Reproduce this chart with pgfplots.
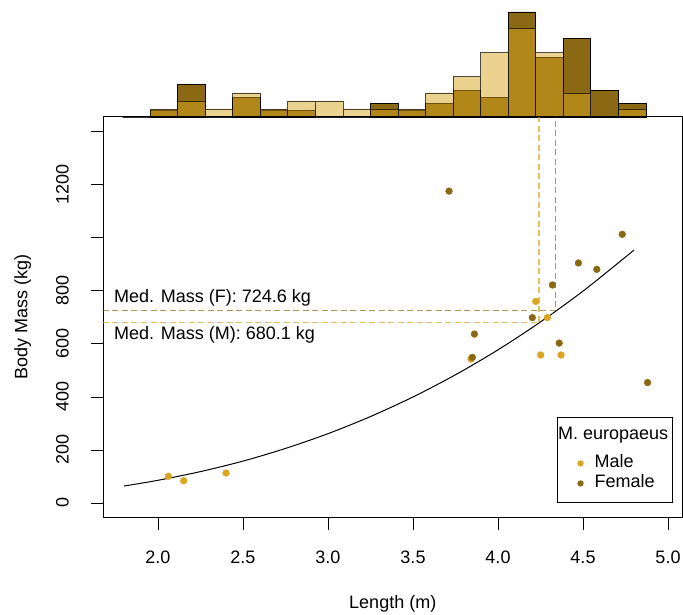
\documentclass[border=0pt]{standalone}
\usepackage{fontspec}
\setmainfont{Liberation Sans}
\usepackage{pgfplots}
\pgfplotsset{compat=1.18}
\definecolor{male}{RGB}{218,165,32}
\definecolor{female}{RGB}{139,105,20}
\begin{document}
\begin{tikzpicture}[font=\fontsize{18}{21.6}\selectfont]
\path[use as bounding box] (0pt,0pt) rectangle (683pt,615pt);
% ---------- marginal histogram ----------
\begin{axis}[at={(103pt,498pt)}, anchor=south west, scale only axis,
  width=579.5pt, height=117pt, xmin=1.6765, xmax=5.0853, ymin=0, ymax=1.6667,
  hide axis, clip=false]
\addplot[ybar interval, fill=female, draw=black, line width=0.8pt] table[row sep=\\] {
x y\\ 1.792 0\\ 1.954 0.0935\\ 2.116 0.4676\\ 2.278 0\\ 2.440 0.2806\\ 2.602 0.0935\\
2.764 0.0935\\ 2.926 0\\ 3.088 0\\ 3.250 0.1871\\ 3.412 0.0935\\ 3.574 0.1871\\
3.736 0.3741\\ 3.898 0.2806\\ 4.060 1.4964\\ 4.222 0.8418\\ 4.384 1.1223\\
4.546 0.3741\\ 4.708 0.1871\\ 4.870 0.1871\\ };
\addplot[ybar interval, fill=male, fill opacity=0.5, draw=black, draw opacity=0.7, line width=0.8pt] table[row sep=\\] {
x y\\ 1.792 0\\ 1.954 0.1143\\ 2.116 0.2286\\ 2.278 0.1143\\ 2.440 0.3429\\ 2.602 0.1143\\
2.764 0.2286\\ 2.926 0.2286\\ 3.088 0.1143\\ 3.250 0.1143\\ 3.412 0.1143\\ 3.574 0.3429\\
3.736 0.5716\\ 3.898 0.9145\\ 4.060 1.2574\\ 4.222 0.9145\\ 4.384 0.3429\\
4.546 0\\ 4.708 0.1143\\ 4.870 0.1143\\ };
\end{axis}
% ---------- scatter ----------
\begin{axis}[at={(103pt,97.15pt)}, anchor=south west, scale only axis,
  width=579.5pt, height=401pt,
  xmin=1.6765, xmax=5.0853, ymin=-56, ymax=1456,
  axis line style={line width=0.8pt},
  tick align=outside, major tick length=12pt,
  tick style={black, line width=0.8pt},
  xtick pos=left, ytick pos=left,
  xtick={2,2.5,3,3.5,4,4.5,5}, xticklabels={2.0,2.5,3.0,3.5,4.0,4.5,5.0},
  ytick={0,200,400,600,800,1000,1200,1400}, yticklabels={0,200,400,600,800,,1200,},
  xticklabel style={inner sep=0pt, anchor=north},
  yticklabel style={inner sep=0pt, rotate=90, anchor=south},
  xticklabel shift=21pt, yticklabel shift=22pt,
  /pgf/number format/assume math mode=true,
  xlabel={Length (m)}, ylabel={Body Mass (kg)},
  xlabel style={at={(axis description cs:0.5,-0.2269)}, anchor=base, inner sep=0pt},
  ylabel style={at={(axis description cs:-0.1303,0.5)}, anchor=base, inner sep=0pt},
  legend style={at={(1,0)}, anchor=south east, xshift=-10pt, yshift=15.5pt,
    draw=black, line width=0.8pt, inner xsep=2pt, inner ysep=8.5pt,
    column sep=5pt, row sep=0pt,
    nodes={inner xsep=2pt, inner ysep=1.5pt, text height=12.5pt, text depth=4.5pt},
    font=\fontsize{18}{21.6}\selectfont},
  legend cell align=left,
  legend image code/.code={\path[draw=none, fill=none] (0pt,-3pt) rectangle (28pt,3pt);
    \draw[mark repeat=2,mark phase=2,#1] plot coordinates {(0pt,0pt) (21pt,0pt) (28pt,0pt)};},
  legend image post style={mark size=2.7pt},
]
\addlegendimage{empty legend}
\addlegendentry[text depth=12.5pt]{\hspace{-36.5pt}M. europaeus}
\addplot[forget plot, female, opacity=0.7, line width=1.1pt, dash pattern=on 6pt off 3.5pt]
  coordinates {(1.6765,724.6) (4.339,724.6) (4.339,1456)};
\addplot[forget plot, male, opacity=0.7, line width=1.1pt, dash pattern=on 6pt off 3.5pt]
  coordinates {(1.6765,680.1) (4.241,680.1) (4.241,1456)};
\addplot[forget plot, black, line width=1pt, smooth] coordinates {
(1.80,64) (2.00,85.6) (2.25,118.4) (2.50,158) (2.75,205.7) (3.00,261.4)
(3.25,326) (3.50,399.8) (3.75,483.5) (4.00,577.5) (4.25,682.6) (4.50,798.9)
(4.75,927.4) (4.80,954)};
\addplot[only marks, mark=*, mark size=3.4pt, color=male, mark options={draw=none, fill=male}]
coordinates {(2.061,100.5) (2.151,84) (2.400,113) (3.841,543) (4.222,760)
(4.290,699) (4.251,558) (4.371,558)};
\addlegendentry{Male}
\addplot[only marks, mark=*, mark size=3.4pt, color=female, mark options={draw=none, fill=female}]
coordinates {(3.712,1176) (4.731,1013) (4.473,905) (4.581,881) (4.320,822)
(4.202,699) (3.861,637) (4.360,603) (3.849,549) (4.880,454)};
\addlegendentry{Female}
\node[anchor=base west, inner sep=0pt] at (axis cs:1.741,755.3) {Med. Mass (F): 724.6 kg};
\node[anchor=base west, inner sep=0pt] at (axis cs:1.741,617.3) {Med. Mass (M): 680.1 kg};
\end{axis}
\end{tikzpicture}
\end{document}
